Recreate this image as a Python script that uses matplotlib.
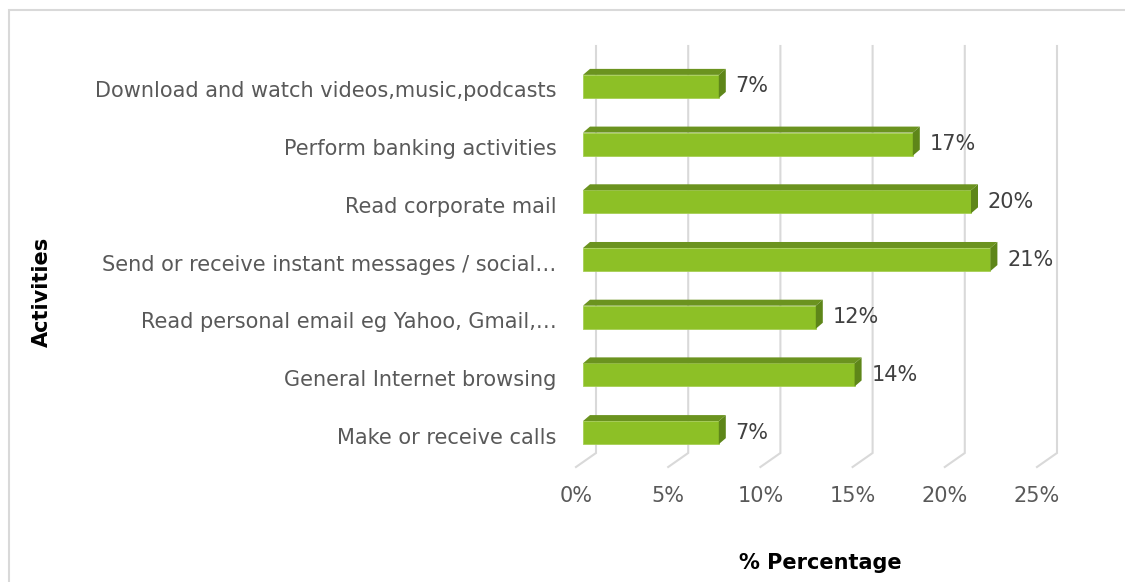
import matplotlib.pyplot as plt
from matplotlib.patches import Polygon, Rectangle
from matplotlib.transforms import ScaledTranslation
import numpy as np

# ---------------- data ----------------
activities = ["Make or receive calls",
              "General Internet browsing",
              "Read personal email eg Yahoo, Gmail,…",
              "Send or receive instant messages / social…",
              "Read corporate mail",
              "Perform banking activities",
              "Download and watch videos,music,podcasts"]
share = [7, 14, 12, 21, 20, 17, 7]          # % of respondents
ticks = [0, 5, 10, 15, 20, 25]

front_col = "#8DC026"
top_col = "#6B931F"
side_col = "#5E8619"
grid_col = "#D9D9D9"

W, H = 1125, 582
fig = plt.figure(figsize=(W / 100, H / 100), dpi=100)
fig.patch.set_facecolor("white")

# chart frame
fig.add_artist(Rectangle((9 / W, -0.05), 1.2, 1 - 10 / H + 0.05, transform=fig.transFigure,
                         fill=False, edgecolor=grid_col, lw=1.5))

# ---------------- 3d-ish grid walls ----------------
gx = fig.add_axes([576 / W, 0, 461 / W, 1])
gx.set_xlim(0, 25)
gx.set_ylim(H, 0)          # pixel rows, top down
gx.axis("off")
depth = 20 / (461 / 25)    # back wall offset in %
for t in ticks:
    gx.plot([t + depth, t + depth, t], [46, 453, 467], color=grid_col, lw=1.5,
            solid_joinstyle="miter", clip_on=False)
    gx.text(t, 496, f"{t}%", ha="center", va="center", fontsize=15, color="#595959")

# ---------------- bars ----------------
ax = fig.add_axes([583 / W, (H - 475.9) / H, 485 / W, 432.75 / H])
ax.patch.set_alpha(0)
ax.set_xlim(0, 25)
ax.set_ylim(-0.75, 6.75)
for s in ax.spines.values():
    s.set_visible(False)
ax.set_xticks([])
y = np.arange(len(activities))
ax.set_yticks(y)
ax.set_yticklabels(activities, fontsize=15, color="#595959")
ax.tick_params(axis="y", length=0, pad=19)
shift = ScaledTranslation(0, -3 / 100, fig.dpi_scale_trans)
for lab in ax.get_yticklabels():
    lab.set_transform(lab.get_transform() + shift)

h = 0.4
dx = 7 / 19.4
dy = 6 / 57.7
ax.barh(y, share, height=h, color=front_col, edgecolor="#A6CF55", lw=0.6, zorder=3)
for yi, w in zip(y, share):
    top = [(0, yi + h / 2), (w, yi + h / 2), (w + dx, yi + h / 2 + dy), (dx, yi + h / 2 + dy)]
    side = [(w, yi - h / 2), (w, yi + h / 2), (w + dx, yi + h / 2 + dy), (w + dx, yi - h / 2 + dy)]
    ax.add_patch(Polygon(top, closed=True, facecolor=top_col, edgecolor="none", zorder=3))
    ax.add_patch(Polygon(side, closed=True, facecolor=side_col, edgecolor="none", zorder=3))
    ax.text(w + dx + 0.5, yi, f"{w}%", ha="left", va="center", fontsize=15, color="#404040")

# axis titles
fig.text(820 / W, 1 - 563 / H, "% Percentage", ha="center", va="center",
         fontsize=15, fontweight="bold", color="black")
fig.text(42 / W, 1 - 292 / H, "Activities", ha="center", va="center", rotation=90,
         fontsize=15, fontweight="bold", color="black")

fig.savefig("out.png", dpi=100)
